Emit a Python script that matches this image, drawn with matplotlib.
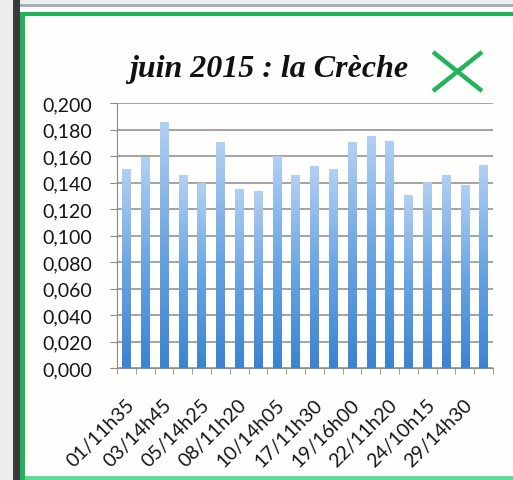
import matplotlib
matplotlib.use("Agg")
import matplotlib.pyplot as plt
import matplotlib.transforms as mtransforms
import numpy as np
from matplotlib.colors import LinearSegmentedColormap
from matplotlib.patches import Rectangle
from matplotlib.lines import Line2D

# Data (juin 2015, la Crèche)
values = [0.150, 0.159, 0.185, 0.145, 0.139, 0.170, 0.135, 0.133, 0.160, 0.145,
          0.152, 0.150, 0.170, 0.175, 0.171, 0.130, 0.140, 0.145, 0.138, 0.153]
# only every other category label is visible on the chart
shown_labels = ['01/11h35', '03/14h45', '05/14h25', '08/11h20', '10/14h05',
                '17/11h30', '19/16h00', '22/11h20', '24/10h15', '29/14h30']
yticks = [0.000, 0.020, 0.040, 0.060, 0.080, 0.100, 0.120, 0.140, 0.160, 0.180, 0.200]
title = 'juin 2015 : la Crèche'

W, H = 513, 481
fig = plt.figure(figsize=(W / 100, H / 100), dpi=100)
fig.patch.set_facecolor('#fefefd')

def px_rect(x0, y0, x1, y1, color):
    # rectangle in pixel coords (origin top-left)
    fig.add_artist(Rectangle((x0 / W, 1 - y1 / H), (x1 - x0) / W, (y1 - y0) / H,
                             transform=fig.transFigure, color=color, lw=0, zorder=0))

# window frame around the chart
px_rect(0, 0, 13, H, '#ededed')
px_rect(0, 0, W, 5, '#ececec')
px_rect(20, 5, W, 8, '#a4adc2')
px_rect(13, 0, 20, H, '#3a3a3a')
px_rect(20, 13, W, 17, '#1db45a')
px_rect(20, 13, 25, H, '#1db45a')
px_rect(25, 477, W, H, '#5ddc9c')

# green X in the corner
xc = [433, 482]
yc = [53, 92]
fig.add_artist(Line2D([xc[0] / W, xc[1] / W], [1 - yc[0] / H, 1 - yc[1] / H],
                      transform=fig.transFigure, color='#22b45a', lw=3.2, solid_capstyle='butt'))
fig.add_artist(Line2D([xc[0] / W, xc[1] / W], [1 - yc[1] / H, 1 - yc[0] / H],
                      transform=fig.transFigure, color='#22b45a', lw=3.2, solid_capstyle='butt'))

ax = fig.add_axes([117 / W, 1 - 369 / H, (493 - 117) / W, (369 - 104) / H])
ax.set_facecolor('none')

n = len(values)
x = np.arange(n)
bw = 0.45
grad = np.linspace(0, 1, 256).reshape(-1, 1)[::-1]
cmap = LinearSegmentedColormap.from_list('bar', ['#3b83d1', '#6aa5e3', '#b3d0f2'])
bars = ax.bar(x, values, width=bw, color='none', zorder=2)
for rect, v in zip(bars, values):
    x0 = rect.get_x()
    ax.imshow(grad, extent=(x0, x0 + bw, 0, v), aspect='auto', cmap=cmap,
              zorder=2, interpolation='bilinear')

ax.set_xlim(-0.5, n - 0.5)
ax.set_ylim(0, 0.2)

ax.set_yticks(yticks)
ax.set_yticklabels([f'{t:.3f}'.replace('.', ',') for t in yticks])
ax.yaxis.grid(True, color='#8a8a8a', lw=1.1, zorder=1)
ax.set_axisbelow(True)

ax.set_xticks(x[::2])
ax.set_xticklabels(shown_labels, rotation=45, ha='right', va='center',
                   rotation_mode='anchor')
ax.set_xticks(np.arange(n + 1) - 0.5, minor=True)
ax.tick_params(axis='x', which='major', length=0, pad=24)
ax.tick_params(axis='x', which='minor', length=4.5, color='#8a8a8a', direction='out')
ax.tick_params(axis='y', length=5, color='#8a8a8a', pad=13)

# nudge the rotated labels a little to the right, like the original
shift = mtransforms.ScaledTranslation(5 / 100, 0, fig.dpi_scale_trans)
for lab in ax.get_xticklabels():
    lab.set_transform(lab.get_transform() + shift)

for lab in ax.get_xticklabels() + ax.get_yticklabels():
    lab.set_family(['Lato', 'DejaVu Sans'])
    lab.set_fontsize(14)
    lab.set_color('#151515')

for s in ['top', 'right']:
    ax.spines[s].set_visible(False)
ax.spines['left'].set_color('#8a8a8a')
ax.spines['bottom'].set_color('#8a8a8a')

fig.text(269 / W, 1 - 77 / H, title, ha='center', va='baseline',
         family=['Liberation Serif', 'DejaVu Serif'], style='italic',
         weight='bold', fontsize=23, color='#111111')

fig.savefig('out.png', dpi=100)
